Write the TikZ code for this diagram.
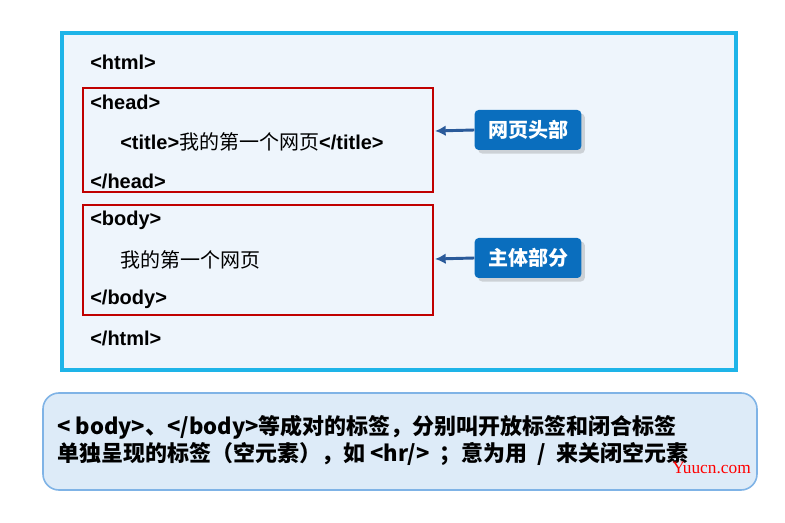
\documentclass[tikz,border=0pt]{standalone}
\usepackage{fontspec}
\setmainfont{Liberation Sans}
\newfontfamily\cjk{Noto Sans CJK SC}
\usetikzlibrary{positioning,arrows.meta,shadows}
\definecolor{panelfill}{HTML}{EEF5FC}
\definecolor{panelline}{HTML}{1EB4E8}
\definecolor{tagred}{HTML}{C00000}
\definecolor{labelblue}{HTML}{0A6EBE}
\definecolor{arrowblue}{HTML}{2A5A9A}
\definecolor{notefill}{HTML}{DDEBF8}
\definecolor{noteline}{HTML}{7FB3E6}
\tikzset{
  tag/.style={anchor=west, font=\fontsize{15}{17}\selectfont\bfseries, inner sep=0pt},
  partlabel/.style={fill=labelblue, rounded corners=3pt, text=white, font=\cjk\fontsize{15}{17}\selectfont\bfseries, minimum width=80pt, minimum height=30pt, drop shadow={opacity=0.3}},
  pointer/.style={-{Latex[length=8pt,width=8pt]}, arrowblue, line width=2.2pt},
  notetext/.style={anchor=west, font=\cjk\fontsize{16.5}{19}\selectfont\bfseries, inner sep=0pt}
}
\begin{document}
\begin{tikzpicture}[x=0.75pt, y=-0.75pt]
    \useasboundingbox (0, 0) rectangle (785, 523);
    % main panel
    \draw[panelline, line width=3pt, fill=panelfill] (62, 33) rectangle (736, 370);
    \draw[tagred, line width=1.5pt] (83, 88) rectangle (433, 192);
    \draw[tagred, line width=1.5pt] (83, 205) rectangle (433, 315);
    \coordinate (headedge) at (435, 131);
    \coordinate (bodyedge) at (435, 259);
    % markup lines
    \node[tag] (html) at (90, 62) {<html>};
    \node[tag] (head) at (90, 102) {<head>};
    \node[tag] (title) at (120, 142) {<title>{\cjk\mdseries 我的第一个网页}</title>};
    \node[tag] (headend) at (90, 181) {</head>};
    \node[tag] (body) at (90, 220) {<body>};
    \node[tag] (bodytext) at (120, 260) {\cjk\mdseries 我的第一个网页};
    \node[tag] (bodyend) at (90, 299) {</body>};
    \node[tag] (htmlend) at (90, 338) {</html>};
    % labels
    \node[partlabel] (headlabel) at (528, 130) {网页头部};
    \node[partlabel] (bodylabel) at (528, 258) {主体部分};
    \draw[pointer] (headlabel.west) -- (headedge);
    \draw[pointer] (bodylabel.west) -- (bodyedge);
    % note
    \draw[noteline, line width=1.2pt, fill=notefill, rounded corners=12pt] (43, 393) rectangle (757, 490);
    \node[notetext] (noteone) at (57, 427) {< body>、</body>等成对的标签，分别叫开放标签和闭合标签};
    \node[notetext] (notetwo) at (57, 454) {单独呈现的标签（空元素），如 <hr/> \ ；意为用 \ / \ 来关闭空元素};
    \node[anchor=west, text=red, font=\fontspec{Liberation Serif}\fontsize{13}{15}\selectfont, inner sep=0pt] (mark) at (672, 468) {Yuucn.com};
\end{tikzpicture}
\end{document}
